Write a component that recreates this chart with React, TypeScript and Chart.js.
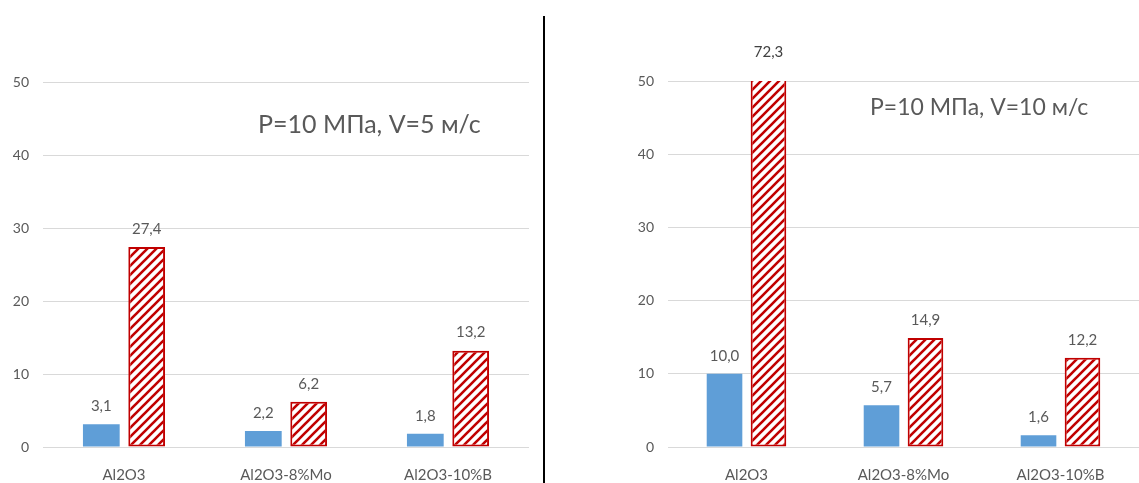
import React, { useEffect, useRef } from "react";
import { Chart, registerables } from "chart.js";

Chart.register(...registerables);

const categories = ["Al2O3", "Al2O3-8%Mo", "Al2O3-10%B"];
const leftBlue = [3.1, 2.2, 1.8];
const leftRed = [27.4, 6.2, 13.2];
const rightBlue = [10.0, 5.7, 1.6];
const rightRed = [72.3, 14.9, 12.2];
const yTicks = [0, 10, 20, 30, 40, 50];
const leftNote = "P=10 МПа, V=5 м/с";
const rightNote = "P=10 МПа, V=10 м/с";

const FONT = "Lato, 'Open Sans', sans-serif";
const GRAY = "#595959";

function makePattern(): CanvasPattern | string {
  const s = 9;
  const c = document.createElement("canvas");
  c.width = s;
  c.height = s;
  const ctx = c.getContext("2d");
  if (!ctx) return "#C00000";
  ctx.fillStyle = "#ffffff";
  ctx.fillRect(0, 0, s, s);
  ctx.strokeStyle = "#C00000";
  ctx.lineWidth = 2.6;
  ctx.beginPath();
  ctx.moveTo(-2, s + 2);
  ctx.lineTo(s + 2, -2);
  ctx.moveTo(-2, 2);
  ctx.lineTo(2, -2);
  ctx.moveTo(s - 2, s + 2);
  ctx.lineTo(s + 2, s - 2);
  ctx.stroke();
  const p = ctx.createPattern(c, "repeat");
  return p || "#C00000";
}

const labelPlugin = {
  id: "valueLabels",
  afterDatasetsDraw(chart: any, _args: any, opts: any) {
    const { ctx, chartArea } = chart;
    ctx.save();
    ctx.font = `15px ${FONT}`;
    ctx.fillStyle = GRAY;
    ctx.textAlign = "center";
    ctx.textBaseline = "middle";
    chart.data.datasets.forEach((ds: any, di: number) => {
      const meta = chart.getDatasetMeta(di);
      meta.data.forEach((el: any, i: number) => {
        const v = ds.data[i] as number;
        const txt = v.toFixed(1).replace(".", ",");
        let y;
        if (el.y < chartArea.top) {
          y = chartArea.top - 29;
          ctx.fillStyle = "#404040";
        } else {
          y = el.y - 18;
          ctx.fillStyle = GRAY;
        }
        ctx.fillText(txt, el.x, y);
      });
    });
    if (opts && opts.text) {
      ctx.font = `${opts.size}px ${FONT}`;
      ctx.fillStyle = GRAY;
      ctx.textAlign = "left";
      ctx.fillText(opts.text, chartArea.left + opts.dx, chartArea.top + opts.dy);
    }
    ctx.restore();
  },
};

interface PanelProps {
  blue: number[];
  red: number[];
  width: number;
  padLeft: number;
  padRight: number;
  padTop: number;
  note: string;
  noteDx: number;
  noteDy: number;
  noteSize: number;
}

function Panel(p: PanelProps) {
  const ref = useRef<HTMLCanvasElement>(null);
  useEffect(() => {
    if (!ref.current) return;
    const pattern = makePattern();
    const chart = new Chart(ref.current, {
      type: "bar",
      data: {
        labels: categories,
        datasets: [
          {
            data: p.blue,
            backgroundColor: "#5F9ED7",
            borderWidth: 0,
            clip: 0,
            categoryPercentage: 0.56,
            barPercentage: 0.81,
          } as any,
          {
            data: p.red,
            backgroundColor: pattern as any,
            borderColor: "#C00000",
            borderWidth: 2,
            borderSkipped: false,
            clip: 0,
            categoryPercentage: 0.56,
            barPercentage: 0.81,
          } as any,
        ],
      },
      options: {
        responsive: false,
        animation: false,
        devicePixelRatio: 1,
        layout: { padding: { left: p.padLeft, right: p.padRight, top: p.padTop, bottom: 0 } },
        plugins: {
          legend: { display: false },
          tooltip: { enabled: false },
          valueLabels: { text: p.note, dx: p.noteDx, dy: p.noteDy, size: p.noteSize },
        } as any,
        scales: {
          x: {
            grid: { display: false },
            border: { display: false },
            ticks: { color: GRAY, font: { family: FONT, size: 15 }, padding: 11 },
            afterFit: (s: any) => {
              s.height = 36;
            },
          },
          y: {
            min: 0,
            max: 50,
            afterBuildTicks: (s: any) => {
              s.ticks = yTicks.map((v) => ({ value: v }));
            },
            grid: { color: "#d9d9d9", lineWidth: 1, drawTicks: false },
            border: { display: false },
            ticks: { color: GRAY, font: { family: FONT, size: 14 }, padding: 14 },
            afterFit: (s: any) => {
              s.width = 43;
            },
          },
        },
      },
      plugins: [labelPlugin],
    });
    return () => chart.destroy();
  }, []);
  return <canvas ref={ref} width={p.width} height={483} style={{ display: "block" }} />;
}

export default function App() {
  return (
    <div
      style={{
        position: "fixed",
        left: 0,
        top: 0,
        width: 1139,
        height: 483,
        background: "#ffffff",
        overflow: "hidden",
      }}
    >
      <div style={{ position: "absolute", left: 0, top: 0 }}>
        <Panel
          blue={leftBlue}
          red={leftRed}
          width={544}
          padLeft={0}
          padRight={15}
          padTop={82}
          note={leftNote}
          noteDx={215}
          noteDy={43}
          noteSize={25}
        />
      </div>
      <div
        style={{
          position: "absolute",
          left: 543,
          top: 16,
          width: 2,
          height: 467,
          background: "#000000",
        }}
      />
      <div style={{ position: "absolute", left: 545, top: 0 }}>
        <Panel
          blue={rightBlue}
          red={rightRed}
          width={594}
          padLeft={80}
          padRight={0}
          padTop={81}
          note={rightNote}
          noteDx={202}
          noteDy={27}
          noteSize={23}
        />
      </div>
    </div>
  );
}
